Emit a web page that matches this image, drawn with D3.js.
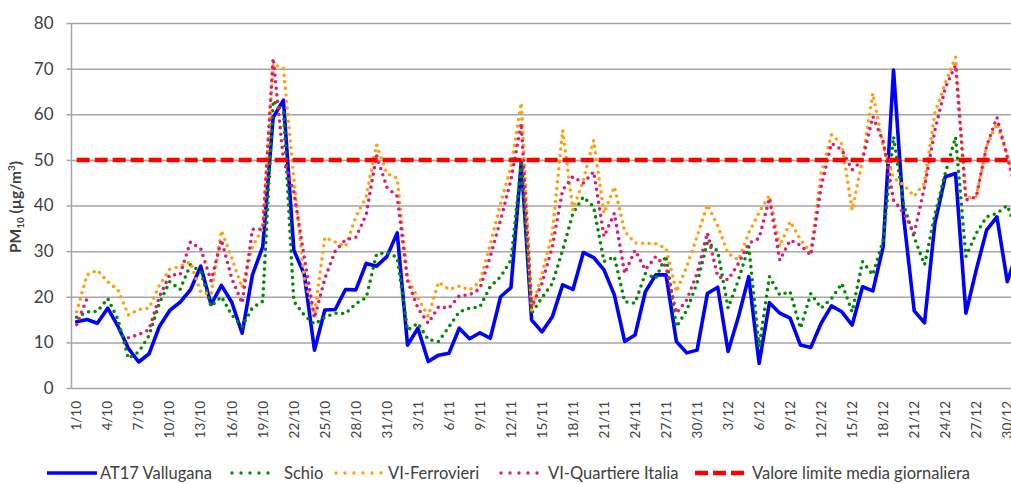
<!DOCTYPE html>
<html>
<head>
<meta charset="utf-8">
<script src="https://cdn.jsdelivr.net/npm/d3@7"></script>
<style>
  html, body { margin: 0; padding: 0; background: #ffffff; overflow: hidden; }
  svg { display: block; }
</style>
</head>
<body>
<svg id="chart" width="1011" height="484"></svg>
<script>
// ---------------- DATA ----------------
const categories = [
  "1/10","2/10","3/10","4/10","5/10","6/10","7/10","8/10","9/10","10/10",
  "11/10","12/10","13/10","14/10","15/10","16/10","17/10","18/10","19/10","20/10",
  "21/10","22/10","23/10","24/10","25/10","26/10","27/10","28/10","29/10","30/10","31/10",
  "1/11","2/11","3/11","4/11","5/11","6/11","7/11","8/11","9/11","10/11",
  "11/11","12/11","13/11","14/11","15/11","16/11","17/11","18/11","19/11","20/11",
  "21/11","22/11","23/11","24/11","25/11","26/11","27/11","28/11","29/11","30/11",
  "1/12","2/12","3/12","4/12","5/12","6/12","7/12","8/12","9/12","10/12",
  "11/12","12/12","13/12","14/12","15/12","16/12","17/12","18/12","19/12","20/12",
  "21/12","22/12","23/12","24/12","25/12","26/12","27/12","28/12","29/12","30/12","31/12"
];

const tickLabels = [
  "1/10","4/10","7/10","10/10","13/10","16/10","19/10","22/10","25/10","28/10","31/10",
  "3/11","6/11","9/11","12/11","15/11","18/11","21/11","24/11","27/11","30/11",
  "3/12","6/12","9/12","12/12","15/12","18/12","21/12","24/12","27/12","30/12"
];

const yTicks = [0, 10, 20, 30, 40, 50, 60, 70, 80];

const at17Vallugana = [
  14.5, 15, 14.2, 17.5, 13.5, 8.7, 5.7, 7.5, 13.5, 17,
  18.8, 21.5, 26.7, 18.3, 22.5, 18.8, 12, 24.8, 31, 59.3,
  63.1, 30.2, 25, 8.3, 17.1, 17.2, 21.6, 21.5, 27.3, 26.7, 28.8,
  34, 9.4, 13.1, 5.8, 7.2, 7.6, 13.1, 10.8, 12.1, 10.9,
  20, 22, 49.5, 14.9, 12.3, 15.6, 22.6, 21.6, 29.7, 28.6,
  25.9, 20.4, 10.2, 11.6, 21.1, 24.8, 24.8, 10.2, 7.7, 8.3,
  20.7, 22.1, 8, 15.6, 24.4, 5.4, 18.7, 16.4, 15.3, 9.4,
  8.9, 14.2, 18, 16.7, 13.8, 22.2, 21.3, 31, 69.7, 37,
  16.9, 14.3, 36.1, 46.3, 47, 16.4, 25.9, 34.6, 37.5, 23.3, 30
];

const schio = [
  15.5, 16.7, 16.8, 19.6, 15, 6.5, 7.9, 11.5, 18.6, 23.3,
  21.6, 27, 25.5, 17.9, 20, 16, 13.5, 17.6, 19, 63,
  60.5, 19, 16, 14, 15.5, 16.4, 16.3, 18.5, 19.8, 29.3, 29.7,
  28.6, 12.7, 14.2, 10.6, 10.2, 13.4, 16.7, 17.5, 17.8, 22.2,
  24.4, 28, 49.2, 16.4, 19.8, 22.9, 30.2, 38.3, 41.9, 39.7,
  27.7, 28.8, 18.9, 18.6, 25.1, 24, 29, 13.4, 17, 23,
  32, 30, 17.5, 23.7, 31, 9, 24.4, 20.4, 21.1, 13.1,
  20.7, 17.5, 19.6, 22.9, 16.7, 27.7, 24.8, 32.4, 55.1, 40,
  33, 27, 38, 47, 55, 28.8, 33.9, 37.5, 38.3, 40, 34
];

const viFerrovieri = [
  16.7, 24.8, 25.8, 23.3, 21.5, 16, 17.2, 17.5, 22.5, 26,
  26.7, 27.6, 21, 20.5, 34.5, 28.5, 22, 31, 35, 71,
  70, 46, 24, 16.2, 33, 32, 31, 37.5, 42, 53.3, 47,
  46, 24, 19.8, 15.7, 23.2, 21.6, 22.3, 21.5, 23.3, 31.5,
  40.5, 48.5, 62.5, 17, 25, 33.9, 56.5, 39, 45.6, 54.3,
  38.3, 44.1, 34.3, 31.8, 31.7, 31.6, 30.6, 21.1, 26.6, 33.2,
  40.2, 35.5, 29.5, 28, 34, 38.5, 42.2, 31, 36.5, 32.5,
  29.8, 47, 55.5, 53.5, 39, 50, 64.6, 53, 46, 44.5,
  42, 45, 60.3, 66.8, 72.5, 41.6, 42, 53, 58, 51, 43
];

const viQuartiereItalia = [
  13.9, 19.6, null, null, null, 11, 11.7, 12.8, 20, 24.8,
  24.8, 32, 30.5, 23.5, 32.5, 24, 18.6, 34.8, 34.8, 72.3,
  50, 43, 28.8, 15.3, 24, 30, 32.5, 33, 38, 51, 44,
  42, 23.5, 17.5, 14.2, 17.8, 17.5, 20.2, 20.4, 21.8, 28.8,
  36.8, 45.6, 58, 17.8, 22.9, 31, 43.4, 46.3, 44.9, 47.4,
  33.2, 38.3, 25.1, 30.2, 25.9, 28.8, 26.6, 16.4, 19.3, 25.1,
  34, 24.4, 23.7, 27.3, 31.7, 32.8, 41.6, 28, 32.4, 31.3,
  29.1, 44.1, 53.6, 52.2, 47.8, 50, 59.5, 54, 41.2, 38.3,
  33.9, 44.1, 56.5, 65.7, 70.8, 41.2, 41.9, 53, 59.3, 50.7, 42
];

const limitValue = 50;

const seriesNames = ["AT17 Vallugana", "Schio", "VI-Ferrovieri", "VI-Quartiere Italia", "Valore limite media giornaliera"];

// ---------------- CHART ----------------
const svg = d3.select("#chart");
const FONT = "Lato, 'Noto Sans', sans-serif";
const TEXT_COLOR = "#404040";

const plotLeft = 71.5, plotTop = 23, plotBottom = 388;
const step = 10.34;
const plotRight = plotLeft + step * categories.length;

const x = d3.scaleBand().domain(categories).range([plotLeft, plotRight]).paddingInner(0).paddingOuter(0);
const y = d3.scaleLinear().domain([0, 80]).range([plotBottom, plotTop]);
const cx = c => x(c) + x.bandwidth() / 2;

// gridlines
const yGrid = d3.axisLeft(y).tickValues(yTicks).tickSize(plotLeft - plotRight).tickFormat("");
const gGrid = svg.append("g").attr("transform", `translate(${plotLeft},0)`).call(yGrid);
gGrid.select(".domain").remove();
gGrid.selectAll(".tick line").attr("stroke", "#a6a6a6").attr("stroke-width", 1.5);

// y axis
const yAxisLabels = d3.axisLeft(y).tickValues(yTicks).tickSize(5).tickPadding(13);
const gY = svg.append("g").attr("transform", `translate(${plotLeft},0)`).call(yAxisLabels);
gY.select(".domain").attr("stroke", "#a6a6a6").attr("stroke-width", 1.5).attr("d", `M0,${plotTop}V${plotBottom}`);
gY.selectAll(".tick line").attr("stroke", "#a6a6a6").attr("stroke-width", 1.5);
gY.selectAll(".tick text").attr("font-family", FONT).attr("font-size", 17).attr("fill", TEXT_COLOR);

// x axis
const xAxis = d3.axisBottom(x).tickValues(tickLabels).tickSize(0).tickPadding(0);
const gX = svg.append("g").attr("transform", `translate(0,${plotBottom})`).call(xAxis);
gX.select(".domain").remove();
gX.selectAll(".tick text")
  .attr("font-family", FONT).attr("font-size", 13.5).attr("fill", TEXT_COLOR)
  .attr("transform", "rotate(-90)")
  .attr("text-anchor", "end")
  .attr("x", -13).attr("y", 0).attr("dy", "0.35em");

// y label
const yLab = svg.append("text")
  .attr("transform", "translate(21,207) rotate(-90)")
  .attr("text-anchor", "middle")
  .attr("font-family", FONT).attr("font-size", 15.5).attr("font-weight", "bold").attr("fill", TEXT_COLOR);
yLab.append("tspan").text("PM");
yLab.append("tspan").attr("font-size", 10).attr("dy", 3).text("10");
yLab.append("tspan").attr("dy", -3).text(" (µg/m");
yLab.append("tspan").attr("font-size", 10).attr("dy", -6).text("3");
yLab.append("tspan").attr("dy", 6).text(")");

// lines
const line = d3.line()
  .defined(d => d != null)
  .x((d, i) => cx(categories[i]))
  .y(d => y(d));

const styles = [
  { data: at17Vallugana, color: "#0000ff", width: 3.6, dash: null },
  { data: schio, color: "#008a00", width: 3.6, dash: "0 6.6" },
  { data: viFerrovieri, color: "#ffa010", width: 3.6, dash: "0 6.6" },
  { data: viQuartiereItalia, color: "#dc1e72", width: 3.6, dash: "0 6.6" }
];

const gLines = svg.append("g");
styles.forEach(s => {
  gLines.append("path")
    .datum(s.data)
    .attr("fill", "none")
    .attr("stroke", s.color)
    .attr("stroke-width", s.width)
    .attr("stroke-linejoin", "round")
    .attr("stroke-linecap", "round")
    .attr("stroke-dasharray", s.dash)
    .attr("d", line);
});

// limit line
const limitData = categories.map(() => limitValue);
gLines.append("path")
  .datum(limitData)
  .attr("fill", "none")
  .attr("stroke", "#ff0000")
  .attr("stroke-width", 4.5)
  .attr("stroke-dasharray", "13 5")
  .attr("d", d3.line().x((d, i) => cx(categories[i])).y(d => y(d)));

// legend
const legendY = 473;
const legendItems = [
  { name: seriesNames[0], x0: 47, x1: 97, tx: 100, color: "#0000ff", width: 3.6, dash: null },
  { name: seriesNames[1], x0: 232, x1: 277, tx: 284, color: "#008a00", width: 3.4, dash: "0 9" },
  { name: seriesNames[2], x0: 336, x1: 382, tx: 388, color: "#ffa010", width: 3.4, dash: "0 9" },
  { name: seriesNames[3], x0: 501, x1: 542, tx: 548, color: "#dc1e72", width: 3.4, dash: "0 9" },
  { name: seriesNames[4], x0: 695, x1: 745, tx: 752, color: "#ff0000", width: 4.5, dash: "13 5" }
];
const gLeg = svg.append("g");
legendItems.forEach(it => {
  gLeg.append("line")
    .attr("x1", it.x0).attr("x2", it.x1).attr("y1", legendY).attr("y2", legendY)
    .attr("stroke", it.color).attr("stroke-width", it.width)
    .attr("stroke-linecap", it.dash && it.dash.startsWith("0") ? "round" : "butt")
    .attr("stroke-dasharray", it.dash);
  gLeg.append("text")
    .attr("x", it.tx).attr("y", legendY).attr("dy", "0.35em")
    .attr("font-family", FONT).attr("font-size", 16.5).attr("fill", TEXT_COLOR)
    .text(it.name);
});
</script>
</body>
</html>
